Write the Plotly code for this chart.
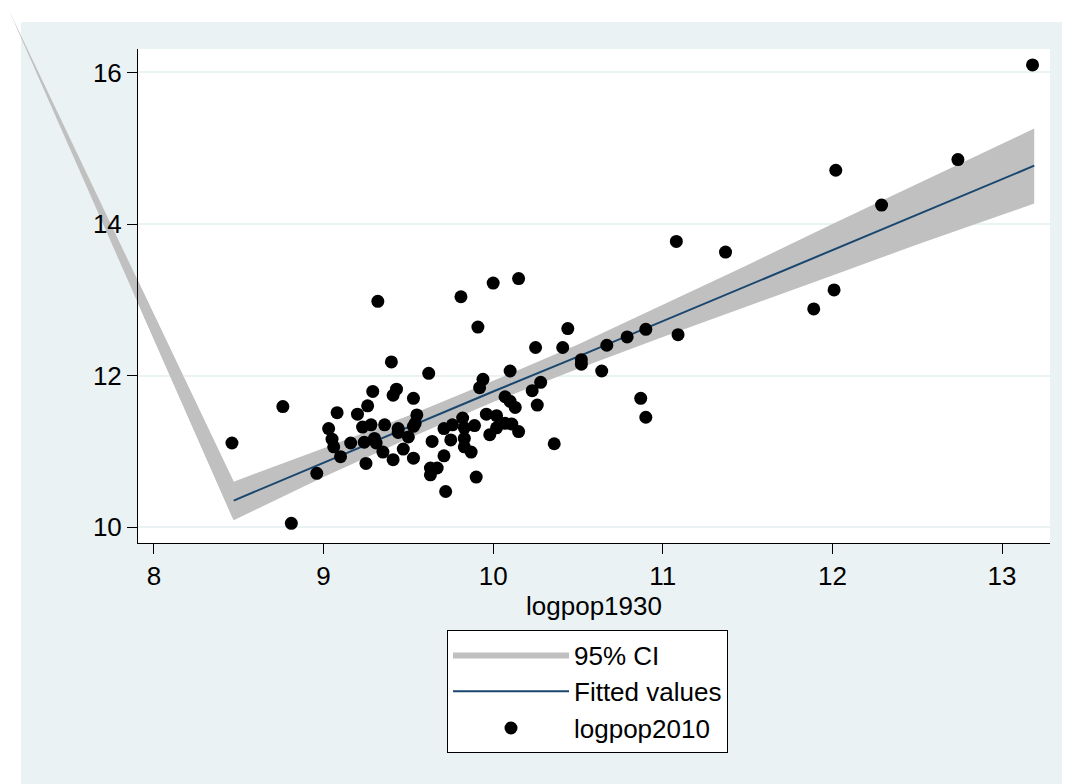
import plotly.graph_objects as go

# ---------------- data ----------------
# Fitted line and 95% CI
x_fit = [8.47, 9.0, 9.5, 10.0, 10.5, 11.0, 11.5, 12.0, 12.5, 13.19]
fitted = [10.35, 10.85, 11.32, 11.79, 12.25, 12.72, 13.19, 13.66, 14.13, 14.77]
ci_upper = [10.60, 11.04, 11.47, 11.93, 12.41, 12.93, 13.46, 14.00, 14.53, 15.26]
ci_lower = [10.09, 10.66, 11.17, 11.65, 12.09, 12.51, 12.92, 13.32, 13.73, 14.27]

# Stray vertex of the CI polygon (Stata rendering artifact), data units
artifact_x = 7.145
artifact_y = 16.82

# Scatter: logpop1930 (x) vs logpop2010 (y)
logpop1930 = [
    8.46, 8.76, 8.81, 8.96, 9.32, 9.40, 9.62, 9.81, 10.00, 10.15,
    9.91, 10.44, 10.25, 10.41, 10.52, 10.52, 10.67, 10.79, 10.90, 10.64,
    10.87, 10.90, 10.36, 10.10, 9.94, 9.92, 10.28, 10.23, 10.26, 10.07,
    10.10, 10.13, 11.08, 11.09, 13.18, 12.02, 12.74, 12.29, 11.37, 12.01,
    11.89,
    9.29, 9.41, 9.43, 9.53, 9.26, 9.08, 9.20, 9.03, 9.23, 9.28,
    9.36, 9.55, 9.54, 9.44,
    9.05, 9.06, 9.10, 9.16, 9.24, 9.30, 9.31, 9.35, 9.25, 9.41,
    9.44, 9.50, 9.53, 9.47, 9.53,
    9.76, 9.82, 9.89, 9.96, 10.02, 10.07, 10.11, 9.71,
    9.83, 9.98, 10.02, 10.15, 9.64, 9.75, 9.83, 9.83, 9.87, 9.71,
    9.63, 9.67, 9.63, 9.90, 9.72,
]
logpop2010 = [
    11.11, 11.59, 10.05, 10.71, 12.98, 12.18, 12.03, 13.04, 13.22, 13.28,
    12.64, 12.62, 12.37, 12.37, 12.21, 12.15, 12.40, 12.51, 12.61, 12.06,
    11.70, 11.45, 11.10, 12.06, 11.95, 11.84, 11.91, 11.80, 11.61, 11.72,
    11.66, 11.58, 13.77, 12.54, 16.10, 14.71, 14.85, 14.25, 13.63, 13.13,
    12.88,
    11.79, 11.74, 11.82, 11.70, 11.60, 11.51, 11.49, 11.30, 11.32, 11.35,
    11.35, 11.48, 11.37, 11.30,
    11.16, 11.06, 10.93, 11.11, 11.12, 11.17, 11.11, 10.99, 10.84, 10.89,
    11.25, 11.19, 11.33, 11.03, 10.91,
    11.35, 11.44, 11.34, 11.49, 11.47, 11.37, 11.36, 11.30,
    11.31, 11.22, 11.31, 11.26, 11.13, 11.15, 11.17, 11.06, 10.99, 10.94,
    10.78, 10.78, 10.69, 10.66, 10.47,
]

# ---------------- styling ----------------
X_RANGE = [7.906, 13.283]
Y_RANGE = [9.79, 16.31]
BG = "#EAF2F3"
CI_GRAY = "#C0C0C0"
NAVY = "#1A476F"
FONT = "Liberation Sans, Arial, Helvetica, sans-serif"

# the page body adds an 8px offset, so the figure is 8px smaller
W, H = 1062, 776
M_L, M_R, M_T, M_B = 130, 20, 41, 241
PW, PH = W - M_L - M_R, H - M_T - M_B


def to_paper(x, y):
    px = (x - X_RANGE[0]) / (X_RANGE[1] - X_RANGE[0])
    py = (y - Y_RANGE[0]) / (Y_RANGE[1] - Y_RANGE[0])
    return px, py


fig = go.Figure()

# 95% CI band
fig.add_trace(go.Scatter(
    x=x_fit + x_fit[::-1],
    y=ci_upper + ci_lower[::-1],
    fill="toself",
    fillcolor=CI_GRAY,
    line=dict(width=0, color=CI_GRAY),
    mode="lines",
    name="95% CI",
    hoverinfo="skip",
))

# Fitted values
fig.add_trace(go.Scatter(
    x=x_fit, y=fitted, mode="lines",
    line=dict(color=NAVY, width=2),
    name="Fitted values",
))

# Scatter points
fig.add_trace(go.Scatter(
    x=logpop1930, y=logpop2010, mode="markers",
    marker=dict(color="black", size=13),
    name="logpop2010",
))

# ---- graph region (light frame around the white plot area) ----
gx0 = (13 - M_L) / PW
gy1 = (H - M_B - 14) / PH
shapes = []
for (x0, x1, y0, y1) in [
    (gx0, 0, -0.6, gy1),
    (1, 1.1, -0.6, gy1),
    (gx0, 1.1, 1, gy1),
    (gx0, 1.1, -0.6, 0),
]:
    shapes.append(dict(type="rect", xref="paper", yref="paper",
                       x0=x0, x1=x1, y0=y0, y1=y1,
                       fillcolor=BG, line=dict(width=0), layer="below"))

# ---- stray wedge of the CI polygon, reaching the image corner ----
ax, ay = to_paper(artifact_x, artifact_y)
ux, uy = to_paper(x_fit[0], ci_upper[0])
lx, ly = to_paper(x_fit[0], ci_lower[0])
shapes.append(dict(type="path", xref="paper", yref="paper",
                   path=f"M{ax},{ay} L{ux},{uy} L{lx},{ly} Z",
                   fillcolor=CI_GRAY, line=dict(width=0), layer="below"))
# same wedge inside the plot area, drawn above the gridlines
shapes.append(dict(type="path", xref="x", yref="y",
                   path=(f"M{artifact_x},{artifact_y} L{x_fit[0]},{ci_upper[0]} "
                         f"L{x_fit[0]},{ci_lower[0]} Z"),
                   fillcolor=CI_GRAY, line=dict(width=0), layer="between"))

fig.update_layout(
    width=W, height=H,
    margin=dict(l=M_L, r=M_R, t=M_T, b=M_B, pad=0),
    paper_bgcolor="white",
    plot_bgcolor="white",
    font=dict(family=FONT, size=26, color="black"),
    shapes=shapes,
    showlegend=True,
    legend=dict(
        x=(439 - M_L) / PW, y=(H - M_B - 622) / PH,
        xanchor="left", yanchor="top",
        bgcolor="white", bordercolor="black", borderwidth=1,
        font=dict(family=FONT, size=26, color="black"),
        itemwidth=116,
        traceorder="normal",
    ),
)

fig.update_xaxes(
    range=X_RANGE, tickvals=[8, 9, 10, 11, 12, 13],
    showgrid=False, zeroline=False,
    showline=True, linecolor="black", linewidth=1,
    ticks="outside", ticklen=10, tickcolor="black", tickwidth=1,
    tickfont=dict(size=26),
    title=dict(text="logpop1930", font=dict(size=26), standoff=0),
)
fig.update_yaxes(
    range=Y_RANGE, tickvals=[10, 12, 14, 16],
    showgrid=True, gridcolor=BG, gridwidth=1.5, zeroline=False,
    showline=True, linecolor="black", linewidth=1,
    ticks="outside", ticklen=10, tickcolor="black", tickwidth=1,
    tickfont=dict(size=26),
)

fig.write_html("out.html")
